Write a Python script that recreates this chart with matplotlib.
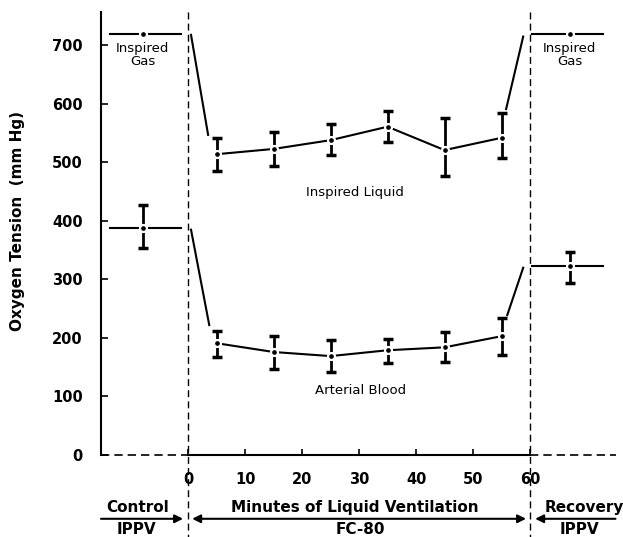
from matplotlib import pyplot as plt

# values (mm Hg), times in minutes
minutes = [5, 15, 25, 35, 45, 55]
liquid = [514, 523, 538, 561, 521, 542]
liquid_hi = [542, 552, 566, 587, 576, 584]
liquid_lo = [486, 494, 513, 535, 477, 507]
arterial = [191, 176, 169, 179, 184, 203]
arterial_hi = [212, 203, 196, 198, 210, 234]
arterial_lo = [168, 147, 142, 157, 159, 171]

control_t = -8
control_gas = 720
control_art = 388
control_art_err = (354, 427)
control_span = (-13.7, -1.2)

recovery_t = 67
recovery_gas = 720
recovery_art = 323
recovery_art_err = (294, 347)
recovery_span = (60.4, 72.8)

# hand drawn joins between the phases
joins_x = [(0.5, 3.5), (55.8, 58.8), (0.5, 3.7), (56.0, 58.8)]
joins_y = [(718, 547), (591, 715), (385, 222), (239, 320)]

xticks = [0, 10, 20, 30, 40, 50, 60]
yticks = [0, 100, 200, 300, 400, 500, 600, 700]

plt.rcParams['font.family'] = ['DejaVu Sans']

fig = plt.figure(figsize=(6.23, 5.37), dpi=100)
ax = fig.add_axes([101 / 623, 1 - 455 / 537, 514.5 / 623, 443 / 537])
ax.set_xlim(-15.3, 75)
ax.set_ylim(0, 757)

for s in ['top', 'right', 'bottom']:
    ax.spines[s].set_visible(False)
ax.spines['left'].set_linewidth(1.5)

lw = 1.5
dot = dict(marker='o', ms=5, mfc='k', mec='white', mew=1.6, ls='none', zorder=5)


def err_bars(x, y, lo, hi):
    low = [a - b for a, b in zip(y, lo)]
    high = [b - a for a, b in zip(y, hi)]
    ax.errorbar(x, y, yerr=[low, high], fmt='none', ecolor='k', elinewidth=2,
                capsize=3.5, capthick=2.5, zorder=3)


# fluid ventilation series
ax.plot(minutes, liquid, color='k', lw=lw)
err_bars(minutes, liquid, liquid_lo, liquid_hi)
ax.plot(minutes, liquid, **dot)

ax.plot(minutes, arterial, color='k', lw=lw)
err_bars(minutes, arterial, arterial_lo, arterial_hi)
ax.plot(minutes, arterial, **dot)

# control and recovery
ax.plot(control_span, [control_gas] * 2, color='k', lw=lw)
ax.plot(control_span, [control_art] * 2, color='k', lw=lw)
err_bars([control_t], [control_art], [control_art_err[0]], [control_art_err[1]])
ax.plot([control_t, control_t], [control_gas, control_art], **dot)

ax.plot(recovery_span, [recovery_gas] * 2, color='k', lw=lw)
ax.plot(recovery_span, [recovery_art] * 2, color='k', lw=lw)
err_bars([recovery_t], [recovery_art], [recovery_art_err[0]], [recovery_art_err[1]])
ax.plot([recovery_t, recovery_t], [recovery_gas, recovery_art], **dot)

for jx, jy in zip(joins_x, joins_y):
    ax.plot(jx, jy, color='k', lw=lw)

# x axis: solid during ventilation, dashed outside
ax.plot([0, 60], [0, 0], color='k', lw=1.5, clip_on=False)
ax.plot([-15.3, 0], [0, 0], color='k', lw=1.2, ls=(0, (5, 3)), clip_on=False)
ax.plot([60, 75], [0, 0], color='k', lw=1.2, ls=(0, (5, 3)), clip_on=False)
for xv in [0, 60]:
    ax.plot([xv, xv], [757, -145], color='k', lw=1, ls=(0, (5, 3)), clip_on=False)

ax.set_xticks(xticks)
ax.set_yticks(yticks)
ax.tick_params(axis='x', direction='in', length=4, width=1.2, pad=12, labelsize=10.5)
ax.tick_params(axis='y', direction='in', length=5, width=1.2, pad=13, labelsize=10.5)
for lab in ax.get_xticklabels() + ax.get_yticklabels():
    lab.set_fontweight('bold')

fig.text(18 / 623, 1 - 221 / 537, 'Oxygen Tension  (mm Hg)', rotation=90,
         ha='center', va='center', fontsize=11, fontweight='bold')

# curve labels
ax.text(control_t, 706, 'Inspired\nGas', ha='center', va='top', fontsize=9.5, linespacing=1.05)
ax.text(recovery_t, 706, 'Inspired\nGas', ha='center', va='top', fontsize=9.5, linespacing=1.05)
ax.text(29.3, 448, 'Inspired Liquid', ha='center', va='center', fontsize=9.5)
ax.text(30.2, 111, 'Arterial Blood', ha='center', va='center', fontsize=9.5)

# phase labels under the axis
bold = dict(ha='center', va='center', fontsize=11, fontweight='bold', clip_on=False)
ax.text(-8.9, -89, 'Control', **bold)
ax.text(-9, -128, 'IPPV', **bold)
ax.text(29.3, -89, 'Minutes of Liquid Ventilation', **bold)
ax.text(30.3, -128, 'FC-80', **bold)
ax.text(69.5, -89, 'Recovery', **bold)
ax.text(68.6, -128, 'IPPV', **bold)

arr = dict(color='k', lw=1.5, shrinkA=0, shrinkB=0, mutation_scale=12)
ax.annotate('', xy=(-0.9, -109), xytext=(-15.3, -109), annotation_clip=False,
            arrowprops=dict(arrowstyle='-|>', **arr))
ax.annotate('', xy=(59.3, -109), xytext=(0.7, -109), annotation_clip=False,
            arrowprops=dict(arrowstyle='<|-|>', **arr))
ax.annotate('', xy=(60.9, -109), xytext=(75, -109), annotation_clip=False,
            arrowprops=dict(arrowstyle='-|>', **arr))

fig.savefig('out.png', dpi=100)
